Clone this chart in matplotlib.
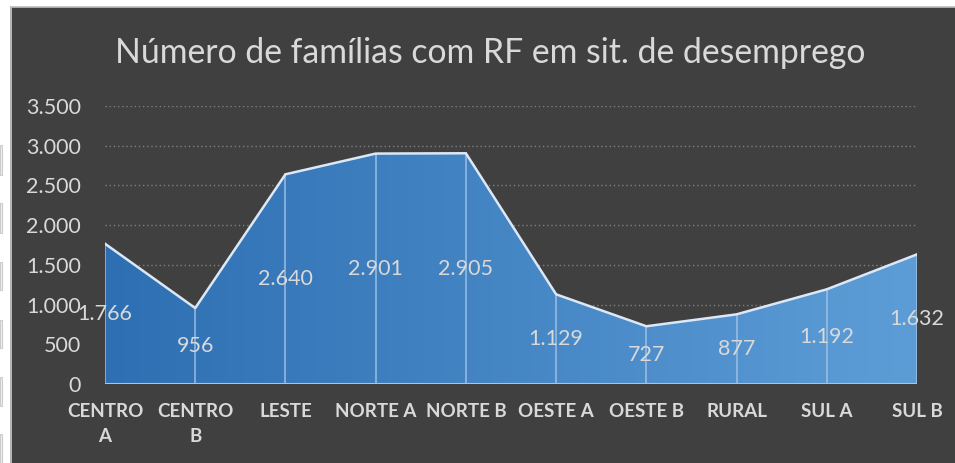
import numpy as np
import matplotlib.pyplot as plt
from matplotlib.patches import Polygon, Rectangle
from matplotlib.colors import LinearSegmentedColormap

# dados por região
regioes = ["CENTRO\nA", "CENTRO\nB", "LESTE", "NORTE A", "NORTE B",
           "OESTE A", "OESTE B", "RURAL", "SUL A", "SUL B"]
familias = [1766, 956, 2640, 2901, 2905, 1129, 727, 877, 1192, 1632]
rotulos = ["1.766", "956", "2.640", "2.901", "2.905",
           "1.129", "727", "877", "1.192", "1.632"]
y_ticks = [0, 500, 1000, 1500, 2000, 2500, 3000, 3500]
y_tick_labels = ["0", "500", "1.000", "1.500", "2.000", "2.500", "3.000", "3.500"]

fonte = "Lato"
cinza = "#d9d9d9"
fundo = "#404040"

fig = plt.figure(figsize=(9.55, 4.63), dpi=100)
fig.patch.set_facecolor("white")

# moldura escura do gráfico
fig.patches.append(Rectangle((12 / 955, 0), 1, 1 - 7 / 463, transform=fig.transFigure,
                             facecolor=fundo, edgecolor="none", zorder=-2))
fig.lines.append(plt.Line2D([11 / 955, 11 / 955], [0, 1 - 7 / 463], transform=fig.transFigure,
                            color="#a6a6a6", lw=1.2, zorder=-1))
fig.lines.append(plt.Line2D([11 / 955, 1], [1 - 6.5 / 463, 1 - 6.5 / 463], transform=fig.transFigure,
                            color="#bfbfbf", lw=1.2, zorder=-1))
# células da planilha à esquerda
for y0, y1 in [(145, 175), (203, 233), (262, 290), (320, 348), (377, 406), (434, 463)]:
    fig.patches.append(Rectangle((0, 1 - y1 / 463), 2 / 955, (y1 - y0) / 463,
                                 transform=fig.transFigure, facecolor="#f0f0f0",
                                 edgecolor="#cccccc", lw=0.8, zorder=-1))

ax = fig.add_axes([105 / 955, 1 - 384 / 463, (917 - 105) / 955, (384 - 106) / 463])
ax.set_facecolor("none")
x = np.arange(len(familias))
ax.set_xlim(0, len(familias) - 1)
ax.set_ylim(0, 3500)

# grade pontilhada
for t in y_ticks[1:]:
    ax.axhline(t, color="#7f7f7f", lw=1, ls=(0, (1, 2)), zorder=1)

# área com gradiente
cmap = LinearSegmentedColormap.from_list("azul", ["#2e6fb3", "#5d9dd7"])
grad = np.linspace(0, 1, 256).reshape(1, -1)
img = ax.imshow(grad, cmap=cmap, aspect="auto", extent=[0, len(familias) - 1, 0, 3500],
                zorder=2)
verts = [(0, 0)] + list(zip(x, familias)) + [(len(familias) - 1, 0)]
poly = Polygon(verts, closed=True, facecolor="none", edgecolor="none")
ax.add_patch(poly)
img.set_clip_path(poly)

# linhas de queda
for xi, v in zip(x, familias):
    ax.plot([xi, xi], [0, v], color="#a9c8e8", lw=1.2, alpha=0.8, zorder=3)
ax.plot(x, familias, color="#dce8f5", lw=1.8, zorder=4, solid_joinstyle="round")

# rótulos de dados
for xi, v, r in zip(x, familias, rotulos):
    ax.text(xi, v / 2, r, ha="center", va="center", color=cinza, fontsize=15.5,
            family=fonte, zorder=5)

ax.axhline(0, color="#bfbfbf", lw=1.5, zorder=5)
for s in ax.spines.values():
    s.set_visible(False)
ax.set_yticks(y_ticks)
ax.set_yticklabels(y_tick_labels, color=cinza, fontsize=15.5, family=fonte)
ax.set_xticks(x)
ax.set_xticklabels(regioes, color=cinza, fontsize=13.5, family=fonte, fontweight="bold",
                   linespacing=1.55)
ax.tick_params(axis="y", length=0, pad=17.5)
ax.tick_params(axis="x", length=0, pad=14)

fig.text(490 / 955, 1 - 53 / 463, "Número de famílias com RF em sit. de desemprego",
         ha="center", va="center", color=cinza, fontsize=24.3, family=fonte)

fig.savefig("out.png", dpi=100, facecolor=fig.get_facecolor())
